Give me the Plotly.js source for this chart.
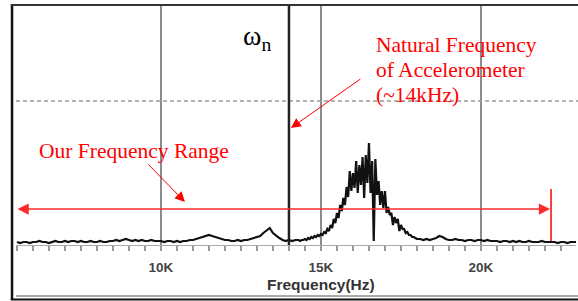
<!DOCTYPE html>
<html>
<head>
<meta charset="utf-8">
<script src="https://cdn.plot.ly/plotly-3.0.1.min.js"></script>
<style>html,body{margin:0;padding:0;background:#fff;}#chart{width:578px;height:301px;}</style>
</head>
<body>
<div id="chart"></div>
<script>
// Frequency grid (kHz) and spectrum amplitude (arbitrary units)
var freqLow = [5.5,5.6,5.7,5.8,5.9,6.0,6.1,6.2,6.3,6.4,
  6.5,6.6,6.7,6.8,6.9,7.0,7.1,7.2,7.3,7.4,
  7.5,7.6,7.7,7.8,7.9,8.0,8.1,8.2,8.3,8.4,
  8.5,8.6,8.7,8.8,8.9,9.0,9.1,9.2,9.3,9.4,
  9.5,9.6,9.7,9.8,9.9,10.0,10.1,10.2,10.3,10.4,
  10.5,10.6,10.7,10.8,10.9,11.0,11.1,11.2,11.3,11.4,
  11.5,11.6,11.7,11.8,11.9,12.0,12.1,12.2,12.3,12.4,
  12.5,12.6,12.7,12.8,12.9,13.0,13.1,13.2,13.3,13.4,
  13.5,13.6,13.7,13.8,13.9,14.0,14.1,14.2];
var ampLow = [1,0,1,1,0,1,1,2,1,1,
  0,1,2,1,1,2,1,2,2,1,
  2,1,1,2,1,1,2,1,1,2,
  2,3,2,3,4,3,2,3,2,3,
  2,2,3,2,2,2,1,2,2,1,
  2,1,2,2,3,3,4,5,6,7,
  8,7,6,5,4,3,3,2,2,3,
  2,3,3,4,5,6,7,10,13,15,
  10,7,5,3,2,3,2,3];

var freqPeak = [14.30,14.35,14.40,14.45,14.50,14.55,14.60,14.65,14.70,14.75,
  14.80,14.85,14.90,14.95,15.00,15.05,15.10,15.15,15.20,15.25,
  15.30,15.35,15.40,15.45,15.50,15.55,15.60,15.65,15.70,15.75,
  15.80,15.85,15.90,15.95,16.00,16.05,16.10,16.15,16.20,16.25,
  16.30,16.35,16.40,16.45,16.50,16.55,16.60,16.65,16.70,16.75,
  16.80,16.85,16.90,16.95,17.00,17.05,17.10,17.15,17.20,17.25,
  17.30,17.35,17.40,17.45,17.50,17.55,17.60,17.65,17.70,17.75,
  17.80,17.85,17.90,17.95,18.00];
var ampPeak = [3,2,3,3,4,3,5,4,6,5,
  7,6,8,7,9,8,11,10,14,12,
  18,15,24,20,30,25,38,32,45,38,
  56,46,72,52,70,55,82,50,78,58,
  86,45,88,60,100,50,82,2,84,48,
  62,38,52,35,52,30,36,28,30,18,
  26,20,24,12,18,14,14,10,11,8,
  8,6,6,5,4];

var freqHigh = [18.1,18.2,18.3,18.4,18.5,18.6,18.7,18.8,18.9,19.0,
  19.1,19.2,19.3,19.4,19.5,19.6,19.7,19.8,19.9,20.0,
  20.1,20.2,20.3,20.4,20.5,20.6,20.7,20.8,20.9,21.0,
  21.1,21.2,21.3,21.4,21.5,21.6,21.7,21.8,21.9,22.0,
  22.1,22.2,22.3,22.4,22.5,22.6,22.7,22.8,22.9,23.0];
var ampHigh = [4,3,4,3,4,5,7,6,4,3,
  3,4,3,3,2,3,3,2,3,3,
  2,3,2,2,2,1,2,2,1,2,
  1,2,1,1,2,1,1,1,2,1,
  1,1,1,0,1,1,0,1,1,1];

var tickVals = [10, 15, 20];
var tickText = ['10K', '15K', '20K'];
var naturalFreq = 14.0;     // kHz
var refLevel = 142;         // dashed reference level
var rangeStart = 5.47, rangeEnd = 22.16, rangeLevel = 34;
var rangeEndMarkTop = 54, rangeEndMarkBottom = 2;
var noteLines = ['Natural Frequency', 'of Accelerometer', '(~14kHz)'];

var freq = freqLow.concat(freqPeak, freqHigh);
var amp = ampLow.concat(ampPeak, ampHigh);

var serif = 'Liberation Serif, Times New Roman, serif';
var sans = 'Liberation Sans, Arial, sans-serif';

var data = [{
  type: 'scatter', mode: 'lines', x: freq, y: amp,
  line: {color: '#111', width: 2.2}, hoverinfo: 'skip'
}];

var annotations = [
  {x: 14.06, y: 115, xref: 'x', yref: 'y', ax: 71, ay: -50, text: '', showarrow: true,
   arrowhead: 2, arrowsize: 2, arrowwidth: 1, arrowcolor: '#ff0000', standoff: 0},
  {x: 10.75, y: 41, xref: 'x', yref: 'y', ax: -38, ay: -39, text: '', showarrow: true,
   arrowhead: 2, arrowsize: 2, arrowwidth: 1, arrowcolor: '#ff0000', standoff: 0},
  {x: rangeEnd, y: rangeLevel, xref: 'x', yref: 'y', ax: rangeStart, ay: rangeLevel, axref: 'x', ayref: 'y',
   text: '', showarrow: true, arrowside: 'end+start', arrowhead: 2, startarrowhead: 2,
   arrowsize: 1.5, startarrowsize: 1.5, arrowwidth: 1.5, arrowcolor: '#ff2a2a', standoff: 0, startstandoff: 0},
  {x: 0.0375, y: 0.452, xref: 'paper', yref: 'paper', xanchor: 'left', yanchor: 'top', align: 'left',
   text: 'Our Frequency Range', showarrow: false,
   font: {family: serif, size: 21.5, color: '#ff0000'}},
  {x: 0.402, y: 0.95, xref: 'paper', yref: 'paper', xanchor: 'left', yanchor: 'top', align: 'left',
   text: 'ω<sub>n</sub>', showarrow: false,
   font: {family: serif, size: 28, color: '#000'}},
  {x: 0.5455, y: -0.165, xref: 'paper', yref: 'paper', xanchor: 'center', yanchor: 'middle',
   text: 'Frequency(Hz)', showarrow: false,
   font: {family: sans, size: 15.5, color: '#333', weight: 'bold'}}
];
// note text lines, 25 px apart
var noteTops = [0.895, 0.790, 0.685];
for (var i = 0; i < noteLines.length; i++) {
  annotations.push({x: 0.6393, y: noteTops[i], xref: 'paper', yref: 'paper', xanchor: 'left', yanchor: 'top',
    align: 'left', text: noteLines[i], showarrow: false,
    font: {family: serif, size: 21.5, color: '#ff0000'}});
}

var layout = {
  width: 578, height: 301,
  margin: {l: 16, r: 2, t: 6, b: 56},
  paper_bgcolor: '#fff', plot_bgcolor: '#fff',
  showlegend: false,
  xaxis: {
    range: [5.47, 22.97],
    tickvals: tickVals, ticktext: tickText,
    showgrid: true, gridcolor: '#8c8c8c', gridwidth: 2.5,
    ticks: 'outside', ticklen: 5, tickcolor: '#999', tickwidth: 1.5,
    minor: {dtick: 0.5, tick0: 0, ticks: 'outside', ticklen: 5, tickcolor: '#999', tickwidth: 1.5, showgrid: false},
    showline: true, linecolor: '#aaa', linewidth: 1,
    zeroline: false,
    ticklabelstandoff: 5,
    tickfont: {family: sans, size: 13.5, color: '#444', weight: 'bold'}
  },
  yaxis: {range: [-2, 237], visible: false, showgrid: false, zeroline: false},
  shapes: [
    {type: 'line', xref: 'paper', yref: 'y', x0: 0, x1: 1.004, y0: refLevel, y1: refLevel,
     line: {color: '#999', width: 1.5, dash: '4px,3px'}},
    {type: 'line', xref: 'x', yref: 'paper', x0: naturalFreq, x1: naturalFreq, y0: 0, y1: 1,
     line: {color: '#222', width: 2.5}},
    {type: 'line', xref: 'paper', yref: 'paper', x0: -0.0071, x1: -0.0071, y0: 1.006, y1: -0.229,
     line: {color: '#111', width: 2.5}},
    {type: 'line', xref: 'paper', yref: 'paper', x0: -0.0095, x1: 1.004, y0: 1.004, y1: 1.004,
     line: {color: '#333', width: 2}},
    {type: 'line', xref: 'paper', yref: 'paper', x0: -0.0095, x1: 1.004, y0: -0.228, y1: -0.228,
     line: {color: '#111', width: 2}},
    {type: 'line', xref: 'paper', yref: 'paper', x0: 0, x1: 1.004, y0: -0.2134, y1: -0.2134,
     line: {color: '#aaa', width: 2}},
    {type: 'line', xref: 'x', yref: 'y', x0: 22.19, x1: 22.19, y0: rangeEndMarkBottom, y1: rangeEndMarkTop,
     line: {color: '#ff0000', width: 1.5}}
  ],
  annotations: annotations
};

Plotly.newPlot('chart', data, layout, {staticPlot: true, displayModeBar: false});
</script>
</body>
</html>
